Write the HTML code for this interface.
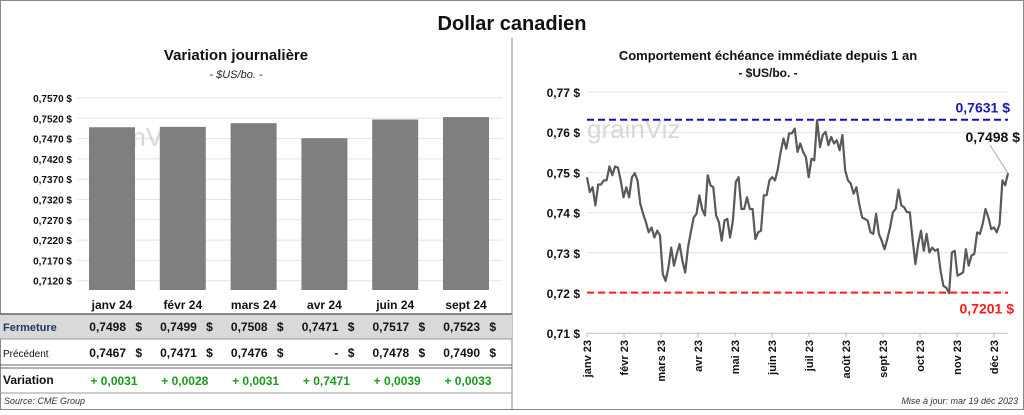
<!DOCTYPE html>
<html><head><meta charset="utf-8">
<style>
body{margin:0;width:1024px;height:410px;overflow:hidden;background:#fff;font-family:"Liberation Sans",Calibri,sans-serif}
svg text{font-family:"Liberation Sans",sans-serif}
</style></head><body>
<svg id="s" width="1024" height="410" viewBox="0 0 1024 410" xmlns="http://www.w3.org/2000/svg">
<rect x="0.5" y="0.5" width="1023" height="409" fill="#fff" stroke="#888"/>
<line x1="512" y1="38" x2="512" y2="410" stroke="#888"/>
<text x="512" y="30" text-anchor="middle" font-size="20" font-weight="bold" fill="#111">Dollar canadien</text>
<text x="236" y="60" text-anchor="middle" font-size="15" font-weight="bold" fill="#111">Variation  journalière</text>
<text x="236" y="78" text-anchor="middle" font-size="11" font-style="italic" fill="#222">- $US/bo. -</text>
<text x="768" y="60" text-anchor="middle" font-size="13" font-weight="bold" fill="#111">Comportement échéance immédiate depuis 1 an</text>
<text x="768" y="77" text-anchor="middle" font-size="12" font-weight="bold" fill="#111">- $US/bo. -</text>
<g id="left"></g>
<g id="right"></g>
<g id="table"></g>
<text x="4" y="404" font-size="9" font-style="italic" fill="#333">Source: CME Group</text>
<text x="1018" y="404" text-anchor="end" font-size="9" font-style="italic" fill="#333">Mise à jour: mar 19 déc 2023</text>
</svg>
<script>
const barCats=["janv 24","févr 24","mars 24","avr 24","juin 24","sept 24"];
const closeVals=[0.7498,0.7499,0.7508,0.7471,0.7517,0.7523];
const prevVals=[0.7467,0.7471,0.7476,null,0.7478,0.7490];
const varLabels=["+ 0,0031","+ 0,0028","+ 0,0031","+ 0,7471","+ 0,0039","+ 0,0033"];
const barTicks=[0.7570,0.7520,0.7470,0.7420,0.7370,0.7320,0.7270,0.7220,0.7170,0.7120];
const lineTicks=[0.77,0.76,0.75,0.74,0.73,0.72,0.71];
const monthLabels=["janv 23","févr 23","mars 23","avr 23","mai 23","juin 23","juil 23","août 23","sept 23","oct 23","nov 23","déc 23"];
const highVal=0.7631, lowVal=0.7201, lastLabel="0,7498 $";
const series=[0.7488,0.7451,0.7463,0.7418,0.7470,0.7470,0.7480,0.7480,0.7515,0.7493,0.7515,0.7512,0.7480,0.7438,0.7463,0.7438,0.7488,0.7498,0.7480,0.7422,0.7397,0.7376,0.7351,0.7363,0.7338,0.7355,0.7343,0.7247,0.7230,0.7263,0.7313,0.7268,0.7297,0.7322,0.7280,0.7251,0.7313,0.7351,0.7388,0.7397,0.7443,0.7409,0.7393,0.7493,0.7468,0.7463,0.7393,0.7376,0.7330,0.7380,0.7384,0.7338,0.7380,0.7476,0.7488,0.7409,0.7409,0.7438,0.7409,0.7409,0.7334,0.7351,0.7355,0.7443,0.7443,0.7480,0.7488,0.7480,0.7509,0.7551,0.7584,0.7559,0.7597,0.7597,0.7609,0.7551,0.7572,0.7551,0.7538,0.7488,0.7534,0.7530,0.7630,0.7563,0.7593,0.7601,0.7568,0.7588,0.7572,0.7580,0.7555,0.7593,0.7505,0.7480,0.7472,0.7447,0.7463,0.7422,0.7388,0.7384,0.7380,0.7351,0.7347,0.7397,0.7347,0.7330,0.7309,0.7334,0.7363,0.7401,0.7409,0.7457,0.7418,0.7413,0.7401,0.7401,0.7334,0.7272,0.7322,0.7355,0.7305,0.7347,0.7301,0.7313,0.7305,0.7309,0.7255,0.7218,0.7213,0.7200,0.7301,0.7305,0.7243,0.7247,0.7251,0.7309,0.7268,0.7293,0.7297,0.7351,0.7347,0.7372,0.7409,0.7388,0.7359,0.7363,0.7351,0.7372,0.7480,0.7468,0.7498];

const NS="http://www.w3.org/2000/svg";
function mk(p,tag,a,txt){const e=document.createElementNS(NS,tag);for(const k in a)e.setAttribute(k,a[k]);if(txt!=null)e.textContent=txt;p.appendChild(e);return e;}
const fmt=(v,d)=>v.toFixed(d).replace('.',',');

// left bar chart
const L=document.getElementById('left');
const by=v=>98+(0.7570-v)*4060, bx=i=>112+i*70.8;
barTicks.forEach(t=>{
  const g=mk(L,'line',{x1:77,x2:502,y1:by(t),y2:by(t),stroke:'#e2e2e2'});
  
  
  const tx=mk(L,'text',{x:72,y:by(t)+4,'text-anchor':'end','font-size':10,'font-weight':'bold',fill:'#111'},fmt(t,4)+' $');
  
  
});
mk(L,'text',{x:88,y:146,'font-size':26,fill:'#d8d8d8'},'grainViz');
closeVals.forEach((v,i)=>{
  const r=mk(L,'rect',{x:bx(i)-23,y:by(v),width:46,height:290-by(v),fill:'#7f7f7f'});
  
  
});

// table
const T=document.getElementById('table');
mk(T,'rect',{x:0,y:314,width:512,height:25,fill:'#d9d9d9'});
mk(T,'line',{x1:0,x2:512,y1:314,y2:314,stroke:'#666','stroke-width':1.5});
mk(T,'line',{x1:0,x2:512,y1:339,y2:339,stroke:'#999'});
mk(T,'line',{x1:0,x2:512,y1:365,y2:365,stroke:'#666'});
mk(T,'line',{x1:0,x2:512,y1:368,y2:368,stroke:'#666'});
mk(T,'line',{x1:0,x2:512,y1:393,y2:393,stroke:'#999'});
const rl=mk(T,'text',{x:3,y:331,'font-size':11,'font-weight':'bold',fill:'#1f3864'},'Fermeture');

const rp=mk(T,'text',{x:3,y:357,'font-size':10,fill:'#111'},'Précédent');

const rv=mk(T,'text',{x:3,y:384,'font-size':12,'font-weight':'bold',fill:'#111'},'Variation');

barCats.forEach((c,i)=>{
  const cx=bx(i);
  const h=mk(T,'text',{x:cx,y:309,'text-anchor':'middle','font-size':12,'font-weight':'bold',fill:'#111'},c);
  
  
  const a=mk(T,'text',{x:cx+14,y:331,'text-anchor':'end','font-size':12,'font-weight':'bold',fill:'#111'},fmt(closeVals[i],4));
  
  
  mk(T,'text',{x:cx+30,y:331,'text-anchor':'end','font-size':12,'font-weight':'bold',fill:'#111'},'$');
  const b=mk(T,'text',{x:cx+14,y:357,'text-anchor':'end','font-size':12,'font-weight':'bold',fill:'#111'},prevVals[i]==null?'-  ':fmt(prevVals[i],4));
  
  
  mk(T,'text',{x:cx+30,y:357,'text-anchor':'end','font-size':12,'font-weight':'bold',fill:'#111'},'$');
  const d=mk(T,'text',{x:cx+2,y:385,'text-anchor':'middle','font-size':12,'font-weight':'bold',fill:'#1a9a1a'},varLabels[i]);
  
  
});

// right line chart
const R=document.getElementById('right');
const X0=587,X1=1008;
const ly=v=>92+(0.77-v)*4020;
const lx=i=>X0+i*(X1-X0)/(series.length-1);
lineTicks.forEach(t=>{
  const g=mk(R,'line',{x1:X0,x2:X1,y1:ly(t),y2:ly(t),stroke:t===0.71?'#bbb':'#e2e2e2'});
  
  
  const tx=mk(R,'text',{x:580,y:ly(t)+5,'text-anchor':'end','font-size':12,'font-weight':'bold',fill:'#111'},fmt(t,2)+' $');
  
  
});
mk(R,'text',{x:587,y:138,'font-size':26,fill:'#d8d8d8'},'grainViz');
monthLabels.forEach((m,i)=>{
  const x=X0+i*(994-X0)/11;
  mk(R,'line',{x1:x,x2:x,y1:333,y2:337,stroke:'#bbb'});
  const tx=mk(R,'text',{x:0,y:0,transform:`translate(${x+4},340) rotate(-90)`,'text-anchor':'end','font-size':11,'font-weight':'bold',fill:'#111'},m);
  
  
});
const hi=mk(R,'line',{x1:X0,x2:X1,y1:ly(highVal),y2:ly(highVal),stroke:'#1010c0','stroke-width':2,'stroke-dasharray':'7,4'});

const lo=mk(R,'line',{x1:X0,x2:X1,y1:ly(lowVal),y2:ly(lowVal),stroke:'#ff1a1a','stroke-width':2,'stroke-dasharray':'7,4'});

const ht=mk(R,'text',{x:1010,y:ly(highVal)-7,'text-anchor':'end','font-size':14,'font-weight':'bold',fill:'#1a1ab0'},fmt(highVal,4)+' $');

const lt=mk(R,'text',{x:1014,y:ly(lowVal)+21,'text-anchor':'end','font-size':14,'font-weight':'bold',fill:'#ff1a1a'},fmt(lowVal,4)+' $');

const pts=series.map((v,i)=>lx(i).toFixed(1)+','+ly(v).toFixed(1)).join(' ');
const pl=mk(R,'polyline',{points:pts,fill:'none',stroke:'#595959','stroke-width':2.2,'stroke-linejoin':'round'});


const last=series[series.length-1];
mk(R,'line',{x1:lx(series.length-1),y1:ly(last),x2:990,y2:145,stroke:'#aaa'});
const la=mk(R,'text',{x:1020,y:142,'text-anchor':'end','font-size':14,'font-weight':'bold',fill:'#111'},lastLabel);

</script>
</body></html>
